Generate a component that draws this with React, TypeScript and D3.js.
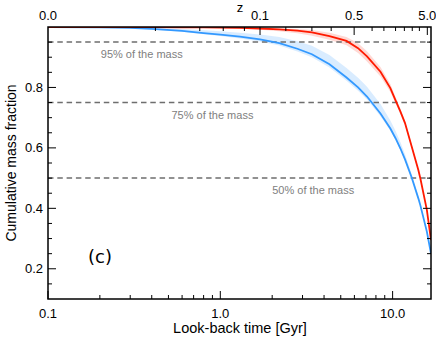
import React from "react";
import * as d3 from "d3";

const times = [0.1, 0.2, 0.3, 0.4, 0.6, 0.8, 1.0, 1.3, 1.7, 2.2, 2.8, 3.4, 4.3, 5.4, 6.3, 7.1, 8.5, 9.7, 10.4, 11.1, 11.8, 12.9, 14.1, 14.5, 15.8, 16.7];
const redValues = [1.0, 1.0, 0.9995, 0.9993, 0.999, 0.9985, 0.998, 0.997, 0.995, 0.992, 0.988, 0.982, 0.97, 0.954, 0.93, 0.903, 0.852, 0.798, 0.757, 0.72, 0.682, 0.605, 0.527, 0.498, 0.395, 0.295];
const redLow = [1.0, 1.0, 0.9993, 0.999, 0.9985, 0.998, 0.997, 0.995, 0.991, 0.986, 0.979, 0.971, 0.958, 0.94, 0.914, 0.886, 0.836, 0.785, 0.747, 0.712, 0.676, 0.6, 0.523, 0.495, 0.393, 0.295];
const redHigh = [1.0, 1.0, 0.9997, 0.9996, 0.9995, 0.999, 0.9988, 0.998, 0.997, 0.995, 0.993, 0.99, 0.981, 0.967, 0.946, 0.92, 0.868, 0.811, 0.768, 0.729, 0.69, 0.611, 0.531, 0.501, 0.397, 0.295];
const blueValues = [1.0, 0.999, 0.997, 0.994, 0.987, 0.98, 0.975, 0.968, 0.959, 0.947, 0.928, 0.91, 0.877, 0.833, 0.8, 0.77, 0.714, 0.664, 0.632, 0.598, 0.562, 0.502, 0.433, 0.409, 0.323, 0.25];
const blueLow = [1.0, 0.999, 0.996, 0.992, 0.984, 0.976, 0.97, 0.962, 0.952, 0.939, 0.919, 0.9, 0.866, 0.822, 0.789, 0.76, 0.705, 0.657, 0.626, 0.593, 0.558, 0.499, 0.431, 0.408, 0.322, 0.25];
const blueHigh = [1.0, 0.9995, 0.998, 0.997, 0.993, 0.989, 0.986, 0.981, 0.975, 0.967, 0.953, 0.938, 0.907, 0.864, 0.832, 0.802, 0.745, 0.691, 0.656, 0.619, 0.579, 0.513, 0.441, 0.415, 0.326, 0.25];

const massLevels = [0.95, 0.75, 0.5];
const massLabels = ["95% of the mass", "75% of the mass", "50% of the mass"];
const massLabelTimes = [0.35, 0.9, 3.46];

const bottomMajor = [0.1, 1.0, 10.0];
const bottomMajorLabels = ["0.1", "1.0", "10.0"];
const bottomMinor = [0.2, 0.3, 0.4, 0.5, 0.6, 0.7, 0.8, 0.9, 2, 3, 4, 5, 6, 7, 8, 9];

const yMajor = [0.2, 0.4, 0.6, 0.8];
const yMinor = [0.15, 0.25, 0.3, 0.35, 0.45, 0.5, 0.55, 0.65, 0.7, 0.75, 0.85, 0.9, 0.95];

const zMajorLabels = ["0.0", "0.1", "0.5", "5.0"];
const zMajorTimes = [0.1, 1.7, 5.98, 15.9];
const zMinorTimes = [0.42, 0.76, 1.04, 1.38, 2.4, 3.4, 4.4, 7.6, 8.9, 10.4, 11.7, 13.0, 14.3];

export default function App() {
  const W = 436, H = 338;
  const L = 48, R = 431, T = 27, B = 299;
  const x = d3.scaleLog().domain([0.1, 16.7]).range([L, R]);
  const y = d3.scaleLinear().domain([0.1, 1.0]).range([B, T]);

  const line = d3.line<number>().x((_, i) => x(times[i])).y((d) => y(d));
  const area = (lo: number[], hi: number[]) =>
    d3.area<number>().x((_, i) => x(times[i])).y0((_, i) => y(lo[i])).y1((_, i) => y(hi[i]))(times.map((t) => t)) || "";

  const font = "'Liberation Sans', Arial, Helvetica, sans-serif";
  const majLen = 8, minLen = 4;

  return (
    <svg width={W} height={H} style={{ position: "absolute", left: 0, top: 0 }} fontFamily={font}>
      <rect width={W} height={H} fill="#fff" />
      <defs>
        <clipPath id="plot">
          <rect x={L} y={T} width={R - L} height={B - T} />
        </clipPath>
      </defs>
      <g clipPath="url(#plot)">
        <path d={area(blueLow, blueHigh)} fill="#1e90ff" fillOpacity={0.17} />
        <path d={area(redLow, redHigh)} fill="#ff2000" fillOpacity={0.17} />
        {massLevels.map((m, i) => (
          <line key={i} x1={L} x2={R} y1={y(m)} y2={y(m)} stroke="#6e6e6e" strokeWidth={1.5} strokeDasharray="5.5,3.8" />
        ))}
        <path d={line(blueValues) || ""} fill="none" stroke="#3399ff" strokeWidth={1.8} />
        <path d={line(redValues) || ""} fill="none" stroke="#ff1a00" strokeWidth={1.8} />
      </g>
      {massLevels.map((m, i) => (
        <text key={i} x={x(massLabelTimes[i])} y={y(m) + 16} fontSize={11} fill="#808080" textAnchor="middle">
          {massLabels[i]}
        </text>
      ))}
      <text x={88} y={263} fontSize={18} fontFamily="'DejaVu Sans', sans-serif" fill="#000">(c)</text>

      <rect x={L} y={T} width={R - L} height={B - T} fill="none" stroke="#000" strokeWidth={1.5} />

      {bottomMajor.map((t, i) => (
        <g key={"bm" + i}>
          <line x1={x(t)} x2={x(t)} y1={B} y2={B - majLen} stroke="#000" strokeWidth={1} />
          <text x={x(t)} y={318} fontSize={13} textAnchor="middle">{bottomMajorLabels[i]}</text>
        </g>
      ))}
      {bottomMinor.map((t, i) => (
        <line key={"bn" + i} x1={x(t)} x2={x(t)} y1={B} y2={B - minLen} stroke="#000" strokeWidth={1} />
      ))}

      {zMajorTimes.map((t, i) => (
        <g key={"tm" + i}>
          {i > 0 && <line x1={x(t)} x2={x(t)} y1={T} y2={T + majLen} stroke="#000" strokeWidth={1} />}
          <text x={i === 0 ? L : x(t)} y={20} fontSize={13} textAnchor="middle">{zMajorLabels[i]}</text>
        </g>
      ))}
      {zMinorTimes.map((t, i) => (
        <line key={"tn" + i} x1={x(t)} x2={x(t)} y1={T} y2={T + minLen} stroke="#000" strokeWidth={1} />
      ))}
      <text x={240} y={12} fontSize={13} textAnchor="middle">z</text>

      {yMajor.map((v, i) => (
        <g key={"ym" + i}>
          <line x1={L} x2={L + majLen} y1={y(v)} y2={y(v)} stroke="#000" strokeWidth={1} />
          <line x1={R} x2={R - majLen} y1={y(v)} y2={y(v)} stroke="#000" strokeWidth={1} />
          <text x={L - 5} y={y(v) + 4.5} fontSize={13} textAnchor="end">{v.toFixed(1)}</text>
        </g>
      ))}
      {yMinor.map((v, i) => (
        <g key={"yn" + i}>
          <line x1={L} x2={L + minLen} y1={y(v)} y2={y(v)} stroke="#000" strokeWidth={1} />
          <line x1={R} x2={R - minLen} y1={y(v)} y2={y(v)} stroke="#000" strokeWidth={1} />
        </g>
      ))}

      <text x={240} y={333} fontSize={14.5} textAnchor="middle">Look-back time [Gyr]</text>
      <text transform={`translate(16,${(T + B) / 2}) rotate(-90)`} fontSize={14} textAnchor="middle">Cumulative mass fraction</text>
    </svg>
  );
}
